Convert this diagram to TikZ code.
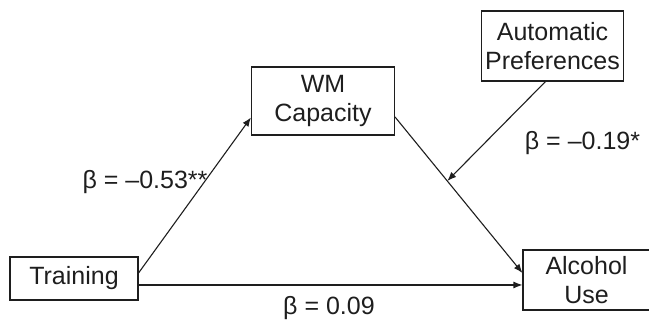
\documentclass[tikz,border=0pt]{standalone}
\usepackage{fontspec}
\setmainfont{Liberation Sans}
\usetikzlibrary{arrows.meta}
\definecolor{ink}{RGB}{30, 30, 30}

\begin{document}
\begin{tikzpicture}
			[x=1pt,y=-1pt,
			 every node/.style={inner sep=0pt, text=ink, font=\fontsize{25}{29.5}\selectfont},
			 box/.style={rectangle, draw=ink, line width=1.1pt, align=center},
			 link/.style={draw=ink, line width=1.1pt, -{Latex[length=9pt,width=7pt]}}]
			\useasboundingbox (0,0) rectangle (649,320);
			\node (train) [box, minimum width=128pt, minimum height=43pt] at (74, 278.5) {Training};
			\node (wm) [box, minimum width=143pt, minimum height=68pt] at (323, 101) {WM\\Capacity};
			\node (auto) [box, minimum width=142pt, minimum height=70pt] at (552.5, 46) {Automatic\\Preferences};
			\node (alc) [box, minimum width=127pt, minimum height=60pt] at (586.5, 280) {Alcohol\\Use};
			\draw [link] ([yshift=5.5pt]train.east) to ([yshift=-16.5pt]wm.west);
			\draw [link] ([yshift=-6.5pt]train.east) to ([yshift=-6.5pt]train.east -| alc.west);
			\draw [link] ([yshift=-16pt]wm.east) to coordinate[pos=0.41] (mod) ([yshift=7pt]alc.west);
			\draw [link] ([xshift=-7pt]auto.south) to (mod);
			\node (b1) at (145, 182) {β = –0.53**};
			\node (b2) at (582.5, 143.5) {β = –0.19*};
			\node (b3) at (329, 308) {β = 0.09};
		\end{tikzpicture}
\end{document}
